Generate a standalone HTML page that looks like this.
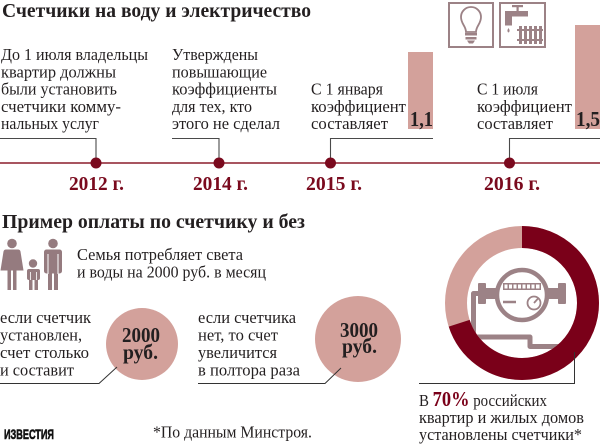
<!DOCTYPE html>
<html><head><meta charset="utf-8"><style>
html,body{margin:0;padding:0;background:#fff;}
svg{display:block;}
text{font-family:"Liberation Serif","Noto Serif CJK SC",serif;fill:#231f20;}
.t{font-size:17px;}
.b{font-weight:bold;}
.yr{font-weight:bold;font-size:20px;fill:#7a0a1e;}
</style></head><body>
<svg width="600" height="446" viewBox="0 0 600 446" xmlns="http://www.w3.org/2000/svg">
<rect width="600" height="446" fill="#fff"/>
<!-- Title 1 -->
<text x="2" y="17" class="b" font-size="20.5" textLength="309" lengthAdjust="spacingAndGlyphs">Счетчики на воду и электричество</text>

<!-- Icons -->
<g fill="none" stroke="#9c8286" stroke-width="2">
<rect x="449" y="3" width="44" height="44"/>
<rect x="500" y="3" width="45" height="44"/>
<path d="M466 32 C466 26 461 24 461 17 A10 10 0 1 1 481 17 C481 24 476 26 476 32 Z" stroke-width="1.8"/>
</g>
<g fill="#9c8286">
<rect x="465" y="33" width="12" height="2.5"/>
<rect x="465.5" y="37" width="11" height="2.5"/>
<path d="M467 40.5 h8 l-2 3 h-4 z"/>
<!-- faucet -->
<rect x="512" y="5" width="11" height="2.2"/>
<rect x="516.5" y="6" width="2.2" height="5"/>
<path d="M505 11 h23 v5.5 h-16 v9 h-7 z"/>
<path d="M508.5 28 q2.2 3.2 0 4.5 q-2.2 -1.3 0 -4.5z"/>
<rect x="519" y="26" width="3" height="18"/>
<rect x="524" y="26" width="3" height="18"/>
<rect x="529" y="26" width="3" height="18"/>
<rect x="534" y="26" width="3" height="18"/>
<rect x="539" y="26" width="3" height="18"/>
<rect x="517" y="29" width="26" height="2"/>
<rect x="517" y="39" width="26" height="2"/>
</g>

<!-- Bars -->
<rect x="408" y="52" width="25" height="77" fill="#d3a19b"/>
<rect x="575" y="25" width="25" height="104" fill="#d3a19b"/>
<text x="410" y="126" class="b" font-size="21" textLength="23" lengthAdjust="spacingAndGlyphs">1,1</text>
<text x="576" y="126" class="b" font-size="21" textLength="24" lengthAdjust="spacingAndGlyphs">1,5</text>

<!-- Block 1 -->
<g class="t">
<text x="1" y="60" textLength="147" lengthAdjust="spacingAndGlyphs">До 1 июля владельцы</text>
<text x="1" y="77.3" textLength="115" lengthAdjust="spacingAndGlyphs">квартир должны</text>
<text x="1" y="94.6" textLength="116" lengthAdjust="spacingAndGlyphs">были установить</text>
<text x="1" y="112" textLength="120" lengthAdjust="spacingAndGlyphs">счетчики комму-</text>
<text x="1" y="129" textLength="98" lengthAdjust="spacingAndGlyphs">нальных услуг</text>
<!-- Block 2 -->
<text x="172" y="60" textLength="86" lengthAdjust="spacingAndGlyphs">Утверждены</text>
<text x="172" y="77.3" textLength="95" lengthAdjust="spacingAndGlyphs">повышающие</text>
<text x="172" y="94.6" textLength="105" lengthAdjust="spacingAndGlyphs">коэффициенты</text>
<text x="172" y="112" textLength="80" lengthAdjust="spacingAndGlyphs">для тех, кто</text>
<text x="172" y="129" textLength="108" lengthAdjust="spacingAndGlyphs">этого не сделал</text>
<!-- Block 3 -->
<text x="311" y="94.6" textLength="72" lengthAdjust="spacingAndGlyphs">С 1 января</text>
<text x="311" y="112" textLength="95" lengthAdjust="spacingAndGlyphs">коэффициент</text>
<text x="311" y="129" textLength="77" lengthAdjust="spacingAndGlyphs">составляет</text>
<!-- Block 4 -->
<text x="477" y="94.6" textLength="61" lengthAdjust="spacingAndGlyphs">С 1 июля</text>
<text x="477" y="112" textLength="95" lengthAdjust="spacingAndGlyphs">коэффициент</text>
<text x="477" y="129" textLength="76" lengthAdjust="spacingAndGlyphs">составляет</text>
</g>

<!-- Timeline connectors -->
<g fill="none" stroke="#4a4a4a" stroke-width="1.1">
<path d="M0 138.5 H96 V163"/>
<path d="M172 138.5 H219 V163"/>
<path d="M433 138.5 H330.5 V163"/>
<path d="M600 138.5 H509.5 V163"/>
</g>
<line x1="0" y1="163" x2="600" y2="163" stroke="#8b1d2c" stroke-width="1.5"/>
<g fill="#7a0a1e">
<circle cx="96" cy="163" r="5.5"/>
<circle cx="219" cy="163" r="5.5"/>
<circle cx="330.5" cy="163" r="5.5"/>
<circle cx="509.5" cy="163" r="5.5"/>
</g>
<text x="69" y="190" class="yr" textLength="55" lengthAdjust="spacingAndGlyphs">2012 г.</text>
<text x="193" y="190" class="yr" textLength="55" lengthAdjust="spacingAndGlyphs">2014 г.</text>
<text x="306" y="190" class="yr" textLength="56" lengthAdjust="spacingAndGlyphs">2015 г.</text>
<text x="484" y="190" class="yr" textLength="56" lengthAdjust="spacingAndGlyphs">2016 г.</text>

<!-- Title 2 -->
<text x="2" y="228" class="b" font-size="20.5" textLength="303" lengthAdjust="spacingAndGlyphs">Пример оплаты по счетчику и без</text>

<!-- People -->
<g fill="#957b7f">
<circle cx="12" cy="243.5" r="4.8"/>
<path d="M6 249.5 h12 q2 0 2.5 2 l3 19 h-23 l3 -19 q0.5 -2 2.5 -2 z"/>
<rect x="7.5" y="270" width="3.5" height="20"/>
<rect x="13" y="270" width="3.5" height="20"/>
<circle cx="33" cy="263.5" r="4.2"/>
<rect x="27" y="269" width="13" height="11" rx="2"/>
<rect x="29" y="279" width="3.5" height="11"/>
<rect x="34.5" y="279" width="3.5" height="11"/>
<circle cx="53" cy="243.5" r="4.8"/>
<rect x="44" y="249.5" width="18" height="24" rx="2.5"/>
<rect x="48" y="272" width="4" height="18"/>
<rect x="54" y="272" width="4" height="18"/>
</g>
<g fill="#fff">
<rect x="47.5" y="254" width="1" height="20"/>
<rect x="57.5" y="254" width="1" height="20"/>
<rect x="30" y="272" width="0.8" height="8"/>
<rect x="36.2" y="272" width="0.8" height="8"/>
</g>

<g class="t">
<text x="77" y="260" textLength="166" lengthAdjust="spacingAndGlyphs">Семья потребляет света</text>
<text x="77" y="277.5" textLength="189" lengthAdjust="spacingAndGlyphs">и воды на 2000 руб. в месяц</text>

<text x="0" y="323" textLength="91" lengthAdjust="spacingAndGlyphs">если счетчик</text>
<text x="0" y="340.5" textLength="82" lengthAdjust="spacingAndGlyphs">установлен,</text>
<text x="0" y="358" textLength="89" lengthAdjust="spacingAndGlyphs">счет столько</text>
<text x="0" y="375.5" textLength="74" lengthAdjust="spacingAndGlyphs">и составит</text>

<text x="198" y="323" textLength="98" lengthAdjust="spacingAndGlyphs">если счетчика</text>
<text x="198" y="340.5" textLength="80" lengthAdjust="spacingAndGlyphs">нет, то счет</text>
<text x="198" y="358" textLength="79" lengthAdjust="spacingAndGlyphs">увеличится</text>
<text x="198" y="375.5" textLength="102" lengthAdjust="spacingAndGlyphs">в полтора раза</text>
</g>

<!-- Circles -->
<circle cx="142" cy="344" r="36" fill="#d3a19b"/>
<circle cx="358" cy="339" r="43" fill="#d3a19b"/>
<text x="122" y="342" class="b" font-size="21" textLength="38" lengthAdjust="spacingAndGlyphs">2000</text>
<text x="123" y="359" class="b" font-size="21" textLength="35" lengthAdjust="spacingAndGlyphs">руб.</text>
<text x="340" y="337" class="b" font-size="21" textLength="38" lengthAdjust="spacingAndGlyphs">3000</text>
<text x="342" y="353" class="b" font-size="21" textLength="35" lengthAdjust="spacingAndGlyphs">руб.</text>
<g fill="none" stroke="#333" stroke-width="1">
<path d="M0 383.5 H99 L117 367"/>
<path d="M198 383.5 H325 L341 368"/>
</g>

<!-- Meter -->
<g fill="#9c8286">
<rect x="478" y="283" width="8" height="21" rx="1"/>
<rect x="485" y="288" width="13" height="11"/>
<rect x="558" y="283" width="8" height="21" rx="1"/>
<rect x="546" y="288" width="13" height="11"/>
<rect x="503" y="283" width="38" height="7"/>
</g>
<g fill="#fff">
<rect x="504.5" y="284.5" width="3" height="4"/>
<rect x="509" y="284.5" width="3" height="4"/>
<rect x="513.5" y="284.5" width="3" height="4"/>
<rect x="518" y="284.5" width="3" height="4"/>
<rect x="522.5" y="284.5" width="3" height="4"/>
<rect x="527" y="284.5" width="3" height="4"/>
<rect x="531.5" y="284.5" width="3" height="4"/>
<rect x="536" y="284.5" width="3.5" height="4"/>
</g>
<g fill="none" stroke="#9c8286">
<circle cx="522" cy="295" r="25" stroke-width="4.5"/>
<line x1="503" y1="302" x2="516" y2="302" stroke-width="2.5"/>
<circle cx="534" cy="303" r="6.5" stroke-width="1.8"/>
<line x1="534" y1="303" x2="538" y2="298.5" stroke-width="1.8"/>
<path d="M480 293.5 H473.5 V337 H530 V346.5 H570" stroke-width="5" stroke-linejoin="round"/>
</g>

<!-- Donut -->
<g transform="rotate(-90 522 303)" fill="none" stroke-width="22">
<circle cx="522" cy="303" r="66" stroke="#d3a19b"/>
<circle cx="522" cy="303" r="66" stroke="#7a0019" stroke-dasharray="290.3 500"/>
</g>
<path d="M574.5 352 V383.5 H419" fill="none" stroke="#333" stroke-width="1"/>

<text x="419" y="406" class="t" textLength="128" lengthAdjust="spacingAndGlyphs">В <tspan class="b" font-size="21" fill="#7a0019">70%</tspan> российских</text>
<text x="419" y="423" class="t" textLength="165" lengthAdjust="spacingAndGlyphs">квартир и жилых домов</text>
<text x="419" y="440" class="t" textLength="163" lengthAdjust="spacingAndGlyphs">установлены счетчики*</text>

<!-- Footer -->
<text x="4" y="439" style="font-family:'Liberation Sans Narrow','Liberation Sans',sans-serif;fill:#111;stroke:#111;stroke-width:0.6" font-weight="bold" font-size="14" textLength="50" lengthAdjust="spacingAndGlyphs">ИЗВЕСТИЯ</text>
<text x="153" y="437.5" class="t" textLength="159" lengthAdjust="spacingAndGlyphs">*По данным Минстроя.</text>
</svg>
</body></html>
